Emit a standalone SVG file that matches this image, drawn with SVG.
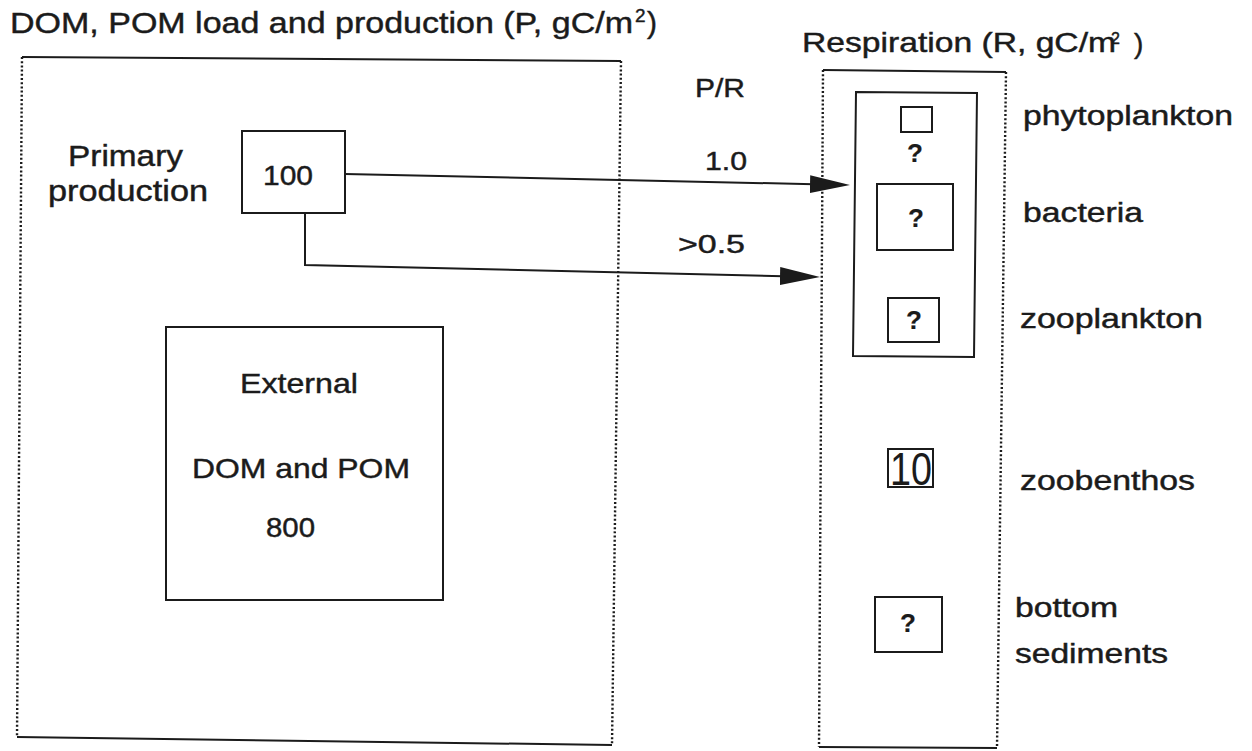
<svg xmlns="http://www.w3.org/2000/svg" width="1252" height="751" viewBox="0 0 1252 751">
<style>
  text { font-family: "Liberation Sans", Arial, sans-serif; fill: #1b1b1b; stroke: #1b1b1b; stroke-width: 0.45; }
  .q { font-weight: bold; stroke-width: 0.2; }
  .thin { stroke-width: 0; }
  .solid { fill: none; stroke: #1b1b1b; stroke-width: 2; }
  .dot { fill: none; stroke: #1b1b1b; stroke-width: 2.4; stroke-dasharray: 2 2.2; }
  .box { fill: none; stroke: #1b1b1b; stroke-width: 2; }
  .conn { fill: none; stroke: #1b1b1b; stroke-width: 2; }
</style>
<defs>
  <marker id="ah" markerUnits="userSpaceOnUse" markerWidth="44" markerHeight="22" refX="35" refY="10" orient="auto">
    <path d="M0,1 L40,10 L0,19 Z" fill="#1b1b1b"/>
  </marker>
</defs>
<rect x="0" y="0" width="1252" height="751" fill="#ffffff"/>

<g id="title-left">
  <text x="10" y="33" font-size="30" textLength="623" lengthAdjust="spacingAndGlyphs">DOM, POM load and production (P, gC/m</text>
  <text x="635" y="22" font-size="19">2</text>
  <text x="647" y="33" font-size="30">)</text>
</g>

<g id="title-right">
  <text x="802" y="52" font-size="28" textLength="314" lengthAdjust="spacingAndGlyphs">Respiration (R, gC/m</text>
  <text x="1111" y="44" font-size="16">2</text>
  <text x="1134" y="53" font-size="28">)</text>
</g>

<g id="pr-label">
  <text x="695" y="97" font-size="26" textLength="50" lengthAdjust="spacingAndGlyphs">P/R</text>
</g>

<g id="production-panel">
  <path class="solid" d="M22,57 L621,61"/>
  <path class="dot" d="M621,61 L612,745"/>
  <path class="solid" d="M612,745 L17,737"/>
  <path class="dot" d="M22,57 L17,737"/>
</g>

<g id="primary-production">
  <text x="68" y="166" font-size="30" textLength="115" lengthAdjust="spacingAndGlyphs">Primary</text>
  <text x="48" y="201" font-size="30" textLength="160" lengthAdjust="spacingAndGlyphs">production</text>
  <rect class="box" x="242" y="131" width="103" height="82"/>
  <text x="263" y="185" font-size="28" textLength="50" lengthAdjust="spacingAndGlyphs">100</text>
</g>

<g id="external">
  <rect class="box" x="166" y="327" width="277" height="273"/>
  <text x="240" y="393" font-size="28" textLength="118" lengthAdjust="spacingAndGlyphs">External</text>
  <text x="192" y="478" font-size="28" textLength="218" lengthAdjust="spacingAndGlyphs">DOM and POM</text>
  <text x="266" y="537" font-size="28" textLength="49" lengthAdjust="spacingAndGlyphs">800</text>
</g>

<g id="respiration-panel">
  <path class="solid" d="M823,70 L1006,72"/>
  <path class="dot" d="M1006,72 L997,748"/>
  <path class="solid" d="M997,748 L819,747"/>
  <path class="dot" d="M823,70 L819,747"/>
</g>

<g id="plankton-group">
  <path class="box" d="M856,92 L977,93 L974,357 L853,356 Z"/>
</g>

<g id="phytoplankton">
  <rect class="box" x="901" y="107" width="31" height="25"/>
  <text class="q" x="915" y="162" font-size="26" text-anchor="middle">?</text>
  <text x="1023" y="125" font-size="27" textLength="210" lengthAdjust="spacingAndGlyphs">phytoplankton</text>
</g>

<g id="bacteria">
  <rect class="box" x="877" y="184" width="76" height="66"/>
  <text class="q" x="916" y="227" font-size="26" text-anchor="middle">?</text>
  <text x="1023" y="222" font-size="27" textLength="120" lengthAdjust="spacingAndGlyphs">bacteria</text>
</g>

<g id="zooplankton">
  <rect class="box" x="888" y="298" width="51" height="44"/>
  <text class="q" x="914" y="329" font-size="26" text-anchor="middle">?</text>
  <text x="1020" y="328" font-size="27" textLength="183" lengthAdjust="spacingAndGlyphs">zooplankton</text>
</g>

<g id="zoobenthos">
  <rect class="box" x="888" y="449" width="45" height="38"/>
  <text class="thin" x="890" y="485" font-size="46" textLength="42" lengthAdjust="spacingAndGlyphs">10</text>
  <text x="1020" y="490" font-size="27" textLength="175" lengthAdjust="spacingAndGlyphs">zoobenthos</text>
</g>

<g id="bottom-sediments">
  <rect class="box" x="875" y="597" width="67" height="55"/>
  <text class="q" x="908" y="632" font-size="26" text-anchor="middle">?</text>
  <text x="1015" y="617" font-size="27" textLength="103" lengthAdjust="spacingAndGlyphs">bottom</text>
  <text x="1015" y="663" font-size="27" textLength="153" lengthAdjust="spacingAndGlyphs">sediments</text>
</g>

<g id="connectors">
  <path class="conn" d="M345,174 L845,184.9" marker-end="url(#ah)"/>
  <text x="705" y="170" font-size="26" textLength="42" lengthAdjust="spacingAndGlyphs">1.0</text>
  <path class="conn" d="M305,213 L305,265 L815,276.9" marker-end="url(#ah)"/>
  <text x="678" y="253" font-size="26" textLength="67" lengthAdjust="spacingAndGlyphs">&gt;0.5</text>
</g>
</svg>
